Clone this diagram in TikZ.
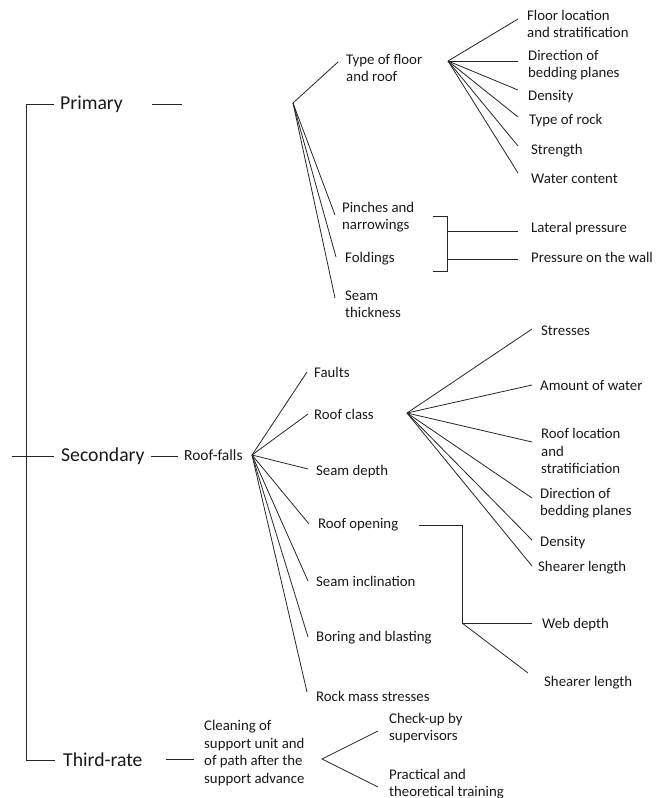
\documentclass[tikz,border=0pt]{standalone}
\usepackage{fontspec}
\setmainfont{Carlito}
\begin{document}
\begin{tikzpicture}[x=1pt,y=-1pt,
  lbl/.style={anchor=west,inner sep=0pt,align=left,text=black!90,font=\fontsize{14.8}{17.5}\selectfont},
  big/.style={anchor=west,inner sep=0pt,text=black!90,font=\fontsize{19.7}{22}\selectfont},
  ln/.style={line width=0.8pt,draw=black!85}]
\useasboundingbox (0,0) rectangle (663,798);

% ---- top level
\node[big] (prim)  at (60,104) {Primary};
\node[big] (sec)   at (61,456) {Secondary};
\node[big] (third) at (63,760) {Third-rate};
\coordinate (secL) at (12,456);
\coordinate (spine) at (26,760);
\coordinate (pstub) at (182,104);
\draw[ln] ([shift={(-6,0)}]prim.west) -| (spine) -- ([shift={(-8,0)}]third.west);
\draw[ln] (secL) -- ([shift={(-7,0)}]sec.west);
\draw[ln] ([shift={(29,0)}]prim.east) -- (pstub);

% ---- primary branch
\coordinate (pv) at (293,103);
\node[lbl] (tfr)   at (346,68)  {Type of floor\\and roof};
\node[lbl] (pinch) at (342,217) {Pinches and\\narrowings};
\node[lbl] (fold)  at (345,259) {Foldings};
\node[lbl] (seamt) at (345,304) {Seam\\thickness};
\draw[ln] (pv) -- ([shift={(-8,-6)}]tfr.west);
\draw[ln] (pv) -- ([shift={(-7,-2)}]pinch.west);
\draw[ln] (pv) -- ([shift={(-9,-2)}]fold.west);
\draw[ln] (pv) -- ([shift={(-10,-6)}]seamt.west);

% type of floor fan
\coordinate (tv) at (448,61);
\node[lbl] (floc)  at (527,24)  {Floor location\\and stratification};
\node[lbl] (dir1)  at (528,65)  {Direction of\\bedding planes};
\node[lbl] (dens1) at (528,97)  {Density};
\node[lbl] (tor)   at (529,121) {Type of rock};
\node[lbl] (str)   at (531,151) {Strength};
\node[lbl] (wc)    at (531,179) {Water content};
\draw[ln] (tv) -- ([shift={(-9,-5)}]floc.west);
\draw[ln] (tv) -- ([shift={(-10,-4)}]dir1.west);
\draw[ln] (tv) -- ([shift={(-10,-7)}]dens1.west);
\draw[ln] (tv) -- ([shift={(-11,-4)}]tor.west);
\draw[ln] (tv) -- ([shift={(-13,-5)}]str.west);
\draw[ln] (tv) -- ([shift={(-13,-6)}]wc.west);

% bracket
\node[lbl] (lat) at (531,229) {Lateral pressure};
\node[lbl] (pw)  at (531,257) {Pressure on the wall};
\coordinate (bt1) at (433,216);
\coordinate (bb1) at (433,271);
\coordinate (bm1) at (447,231);
\coordinate (bm2) at (447,259);
\draw[ln] (bt1) -| (bb1 -| bm1) -- (bb1);
\draw[ln] (bm1) -- ([shift={(-13,2)}]lat.west);
\draw[ln] (bm2) -- ([shift={(-13,2)}]pw.west);

% ---- secondary branch
\node[lbl,font=\fontsize{15.5}{18}\selectfont] (rf) at (184,455) {Roof-falls};
\draw[ln] ([shift={(6,0)}]sec.east) -- ([shift={(-6,1)}]rf.west);
\coordinate (rfv) at (252,455);
\node[lbl] (faults) at (314,372) {Faults};
\node[lbl] (rclass) at (314,414) {Roof class};
\node[lbl] (sdepth) at (316,472) {Seam depth};
\node[lbl] (ropen)  at (318,525) {Roof opening};
\node[lbl] (sincl)  at (316,581) {Seam inclination};
\node[lbl] (boring) at (316,638) {Boring and blasting};
\node[lbl] (rms)    at (316,696) {Rock mass stresses};
\draw[ln] (rfv) -- ([shift={(-7,0)}]faults.west);
\draw[ln] (rfv) -- ([shift={(-6,0)}]rclass.west);
\draw[ln] (rfv) -- ([shift={(-8,-3)}]sdepth.west);
\draw[ln] (rfv) -- ([shift={(-9,-1)}]ropen.west);
\draw[ln] (rfv) -- ([shift={(-8,0)}]sincl.west);
\draw[ln] (rfv) -- ([shift={(-8,-1)}]boring.west);
\draw[ln] (rfv) -- ([shift={(-9,-4)}]rms.west);

% roof class fan
\coordinate (rcv) at (407,413);
\node[lbl] (stresses) at (541,331) {Stresses};
\node[lbl] (water)    at (540,385) {Amount of water};
\node[lbl] (rloc)     at (541,451) {Roof location\\and\\stratificiation};
\node[lbl] (dir2)     at (540,503) {Direction of\\bedding planes};
\node[lbl] (dens2)    at (540,543) {Density};
\node[lbl] (shear1)   at (538,568) {Shearer length};
\draw[ln] (rcv) -- ([shift={(-9,-2)}]stresses.west);
\draw[ln] (rcv) -- ([shift={(-8,0)}]water.west);
\draw[ln] (rcv) -- ([shift={(-9,-9)}]rloc.west);
\draw[ln] (rcv) -- ([shift={(-8,-5)}]dir2.west);
\draw[ln] (rcv) -- ([shift={(-8,-3)}]dens2.west);
\draw[ln] (rcv) -- ([shift={(-6,-2)}]shear1.west);

% roof opening connector
\node[lbl] (web)    at (542,625) {Web depth};
\node[lbl] (shear2) at (544,683) {Shearer length};
\coordinate (ro1) at (419,525);
\coordinate (ro2) at (462,623);
\draw[ln] (ro1) -| (ro2) -- ([shift={(-10,-2)}]web.west);
\draw[ln] (ro2) -- ([shift={(-16,-10)}]shear2.west);

% ---- third-rate branch
\node[lbl] (clean) at (204,753) {Cleaning of\\support unit and\\of path after the\\support advance};
\draw[ln] ([shift={(23,-1)}]third.east) -- ([shift={(-10,6)}]clean.west);
\coordinate (fv) at (322,759);
\node[lbl] (chk)  at (389,728) {Check-up by\\supervisors};
\node[lbl] (prac) at (389,784) {Practical and\\theoretical training};
\draw[ln] ([shift={(-11,3)}]chk.west) -- (fv) -- ([shift={(-11,3)}]prac.west);
\end{tikzpicture}
\end{document}
